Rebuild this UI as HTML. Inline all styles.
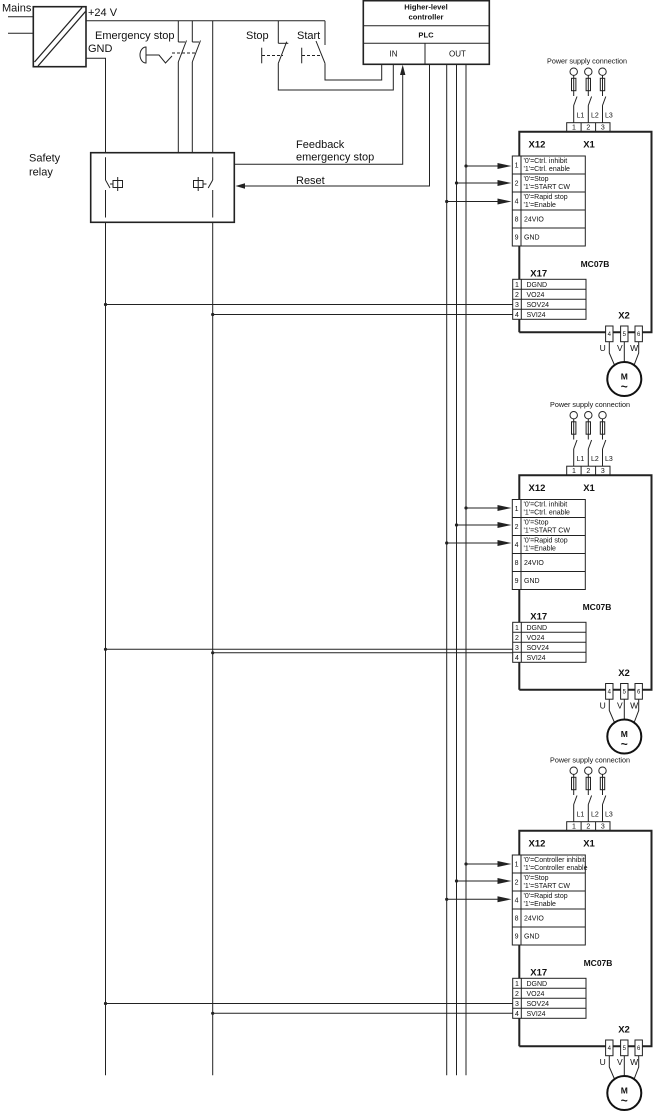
<!DOCTYPE html>
<html><head><meta charset="utf-8"><style>
html,body{margin:0;padding:0;background:#fff}
svg{display:block}
text{font-family:"Liberation Sans",Arial,sans-serif;fill:#111}
.t11{font-size:11px}
.t7{font-size:7px}
.t6{font-size:6px}
.b{font-weight:bold}
</style></head><body>
<svg width="653" height="1112" viewBox="0 0 653 1112" xmlns="http://www.w3.org/2000/svg">
<g fill="none" stroke="#222" stroke-width="1">
<!-- Mains / power supply -->
<line x1="8" y1="16.7" x2="33.3" y2="16.7"/>
<line x1="8" y1="33.3" x2="33.3" y2="33.3"/>
<rect x="33.3" y="6.7" width="52.7" height="60" stroke-width="1.6"/>
<line x1="34.5" y1="62" x2="82" y2="7.5" stroke-width="1.3"/>
<line x1="38" y1="66" x2="85.5" y2="11.5" stroke-width="1.3"/>
<!-- +24V line -->
<line x1="86" y1="20.7" x2="325" y2="20.7"/>
<!-- GND -->
<polyline points="86,58.3 105.5,58.3 105.5,152.7"/>
<line x1="105.5" y1="222.3" x2="105.5" y2="1075.3"/>
<!-- 24V vertical -->
<line x1="212.7" y1="20.7" x2="212.7" y2="152.7"/>
<line x1="212.7" y1="222.3" x2="212.7" y2="1075.3"/>
<!-- Emergency stop contacts -->
<line x1="178.3" y1="20.7" x2="178.3" y2="42"/>
<line x1="178.3" y1="42" x2="185" y2="42"/>
<line x1="178.3" y1="62" x2="186.5" y2="40.5"/>
<line x1="178.3" y1="62" x2="178.3" y2="152.7"/>
<line x1="192.3" y1="20.7" x2="192.3" y2="42"/>
<line x1="192.3" y1="42" x2="199" y2="42"/>
<line x1="192.3" y1="62" x2="200.5" y2="40.5"/>
<line x1="192.3" y1="62" x2="192.3" y2="152.7"/>
<line x1="172" y1="53" x2="197" y2="53" stroke-dasharray="3,2"/>
<path d="M146,47 A6,8 0 0 0 146,63 Z"/>
<polyline points="146,55 159,55 165.5,63 172,56"/>
<!-- Stop / Start -->
<line x1="278.3" y1="20.7" x2="278.3" y2="43.3"/>
<line x1="278.3" y1="43.3" x2="288.3" y2="43.3"/>
<line x1="278.3" y1="63.3" x2="286.7" y2="41.7"/>
<polyline points="278.3,63.3 278.3,90 393.3,90 393.3,64.3"/>
<line x1="261.7" y1="47.7" x2="261.7" y2="63.3"/>
<line x1="262" y1="55.5" x2="283" y2="55.5" stroke-dasharray="3,2"/>
<line x1="325" y1="20.7" x2="325" y2="45"/>
<line x1="325" y1="63.3" x2="316" y2="41"/>
<polyline points="325,63.3 325,80 381.7,80 381.7,64.3"/>
<line x1="301.7" y1="47.7" x2="301.7" y2="63.3"/>
<line x1="302" y1="55.5" x2="321" y2="55.5" stroke-dasharray="3,2"/>
<!-- PLC -->
<rect x="363.3" y="0.7" width="126" height="63.6" stroke-width="1.6"/>
<line x1="363.3" y1="25.7" x2="489.3" y2="25.7"/>
<line x1="363.3" y1="43.3" x2="489.3" y2="43.3"/>
<line x1="425" y1="43.3" x2="425" y2="64.3"/>
<!-- PLC outputs -->
<polyline points="429.5,64.3 429.5,186 243,186"/>
<line x1="446.7" y1="64.3" x2="446.7" y2="1075.3"/>
<line x1="456.5" y1="64.3" x2="456.5" y2="1075.3"/>
<line x1="466" y1="64.3" x2="466" y2="1075.3"/>
<!-- Feedback -->
<polyline points="234.3,164.3 402.7,164.3 402.7,74"/>
<!-- Safety relay -->
<rect x="90.7" y="152.7" width="143.6" height="69.6" stroke-width="1.6"/>
<line x1="105.5" y1="157.3" x2="105.5" y2="180"/>
<line x1="105.5" y1="180" x2="110" y2="188"/>
<line x1="105.5" y1="190" x2="105.5" y2="217.5"/>
<line x1="110" y1="184" x2="113" y2="184"/>
<rect x="113" y="180.5" width="9.5" height="7"/>
<line x1="117.7" y1="177" x2="117.7" y2="191"/>
<line x1="212.7" y1="157.3" x2="212.7" y2="180"/>
<line x1="212.7" y1="180" x2="208.2" y2="188"/>
<line x1="212.7" y1="190" x2="212.7" y2="217.5"/>
<line x1="203" y1="184" x2="206.5" y2="184"/>
<rect x="193.5" y="180.5" width="9.5" height="7"/>
<line x1="198.2" y1="177" x2="198.2" y2="191"/>
</g>
<!-- arrowheads top -->
<polygon points="402.7,64.8 400,75 405.4,75" fill="#222"/>
<polygon points="235.5,186 245,183.2 245,188.8" fill="#222"/>

<!-- top texts -->
<text x="2" y="11.5" class="t11">Mains</text>
<text x="88" y="16" class="t11">+24 V</text>
<text x="95" y="39" class="t11">Emergency stop</text>
<text x="88" y="52" class="t11">GND</text>
<text x="246" y="39" class="t11">Stop</text>
<text x="297" y="39" class="t11">Start</text>
<text x="426" y="9.5" font-size="7.6" class="b" text-anchor="middle">Higher-level</text>
<text x="426" y="19.5" font-size="7.6" class="b" text-anchor="middle">controller</text>
<text x="426" y="37.5" font-size="7.6" class="b" text-anchor="middle">PLC</text>
<text x="393.5" y="56.5" font-size="8" text-anchor="middle">IN</text>
<text x="457.5" y="56.5" font-size="8" text-anchor="middle">OUT</text>
<text x="29" y="161.5" class="t11">Safety</text>
<text x="29" y="175.5" class="t11">relay</text>
<text x="296" y="148" class="t11">Feedback</text>
<text x="296" y="160.5" class="t11">emergency stop</text>
<text x="296" y="184" class="t11">Reset</text>

<!-- ================= BLOCK 1 ================= -->
<g fill="none" stroke="#222" stroke-width="2">
<polyline points="519.3,332.3 519.3,131.7 651.5,131.7 651.5,332.3 519.3,332.3"/>
</g>
<g>
<text x="587" y="63.5" font-size="7.2" text-anchor="middle">Power supply connection</text>
<g fill="none" stroke="#222" stroke-width="1">
<circle cx="573.7" cy="71.7" r="3.7"/><circle cx="588.3" cy="71.7" r="3.7"/><circle cx="602.5" cy="71.7" r="3.7"/>
<line x1="573.7" y1="75.4" x2="573.7" y2="78.3"/><line x1="588.3" y1="75.4" x2="588.3" y2="78.3"/><line x1="602.5" y1="75.4" x2="602.5" y2="78.3"/>
<rect x="571.5" y="78.3" width="4.4" height="12.4"/><rect x="586.1" y="78.3" width="4.4" height="12.4"/><rect x="600.3" y="78.3" width="4.4" height="12.4"/>
<line x1="573.7" y1="78.3" x2="573.7" y2="96"/><line x1="588.3" y1="78.3" x2="588.3" y2="96"/><line x1="602.5" y1="78.3" x2="602.5" y2="96"/>
<line x1="573.7" y1="105.5" x2="577" y2="96.5"/><line x1="588.3" y1="105.5" x2="591.6" y2="96.5"/><line x1="602.5" y1="105.5" x2="605.8" y2="96.5"/>
<line x1="573.7" y1="105.5" x2="573.7" y2="122.7"/><line x1="588.3" y1="105.5" x2="588.3" y2="122.7"/><line x1="602.5" y1="105.5" x2="602.5" y2="122.7"/>
<rect x="566.7" y="122.7" width="43.3" height="9"/>
<line x1="581.1" y1="122.7" x2="581.1" y2="131.7"/><line x1="595.6" y1="122.7" x2="595.6" y2="131.7"/>
</g>
<text x="576.5" y="117.5" class="t7">L1</text><text x="591" y="117.5" class="t7">L2</text><text x="605" y="117.5" class="t7">L3</text>
<text x="573.9" y="129.5" class="t7" text-anchor="middle">1</text><text x="588.3" y="129.5" class="t7" text-anchor="middle">2</text><text x="602.8" y="129.5" class="t7" text-anchor="middle">3</text>
<text x="537" y="147.5" font-size="9.5" class="b" text-anchor="middle">X12</text>
<text x="589" y="147.5" font-size="9.5" class="b" text-anchor="middle">X1</text>
<rect x="512.3" y="156" width="73" height="90" fill="#fff" stroke="#222"/>
<g stroke="#222" stroke-width="1">
<line x1="512.3" y1="174" x2="585.3" y2="174"/><line x1="512.3" y1="192" x2="585.3" y2="192"/>
<line x1="512.3" y1="210" x2="585.3" y2="210"/><line x1="512.3" y1="228" x2="585.3" y2="228"/>
<line x1="521" y1="156" x2="521" y2="246"/>
<line x1="466" y1="166" x2="500" y2="166"/><line x1="456.5" y1="183" x2="500" y2="183"/><line x1="446.7" y1="201.5" x2="500" y2="201.5"/>
</g>
<g fill="#222">
<circle cx="466" cy="166" r="1.6"/><circle cx="456.5" cy="183" r="1.6"/><circle cx="446.7" cy="201.5" r="1.6"/>
<polygon points="497.5,163 511.5,166 497.5,169"/><polygon points="497.5,180 511.5,183 497.5,186"/><polygon points="497.5,198.5 511.5,201.5 497.5,204.5"/>
</g>
<text x="516.6" y="167.5" class="t7" text-anchor="middle">1</text>
<text x="523.5" y="162.8" class="t7">'0'=Ctrl. inhibit</text><text x="523.5" y="171.2" class="t7">'1'=Ctrl. enable</text>
<text x="516.6" y="185.5" class="t7" text-anchor="middle">2</text>
<text x="523.5" y="180.8" class="t7">'0'=Stop</text><text x="523.5" y="189.2" class="t7">'1'=START CW</text>
<text x="516.6" y="203.5" class="t7" text-anchor="middle">4</text>
<text x="523.5" y="198.8" class="t7">'0'=Rapid stop</text><text x="523.5" y="207.2" class="t7">'1'=Enable</text>
<text x="516.6" y="221.5" class="t7" text-anchor="middle">8</text><text x="524" y="221.5" class="t7">24VIO</text>
<text x="516.6" y="239.5" class="t7" text-anchor="middle">9</text><text x="524" y="239.5" class="t7">GND</text>
</g>
<g>
<text x="595" y="267" font-size="8.5" class="b" text-anchor="middle">MC07B</text>
<text x="538.7" y="276.5" font-size="9.5" class="b" text-anchor="middle">X17</text>
<rect x="512.7" y="279.3" width="73.3" height="40" fill="#fff" stroke="#222"/>
<g stroke="#222" stroke-width="1">
<line x1="512.7" y1="289.3" x2="586" y2="289.3"/><line x1="512.7" y1="299.3" x2="586" y2="299.3"/><line x1="512.7" y1="309.3" x2="586" y2="309.3"/>
<line x1="521.3" y1="279.3" x2="521.3" y2="319.3"/>
</g>
<text x="517" y="286.8" class="t7" text-anchor="middle">1</text><text x="526.5" y="286.8" class="t7">DGND</text>
<text x="517" y="296.8" class="t7" text-anchor="middle">2</text><text x="526.5" y="296.8" class="t7">VO24</text>
<text x="517" y="306.8" class="t7" text-anchor="middle">3</text><text x="526.5" y="306.8" class="t7">SOV24</text>
<text x="517" y="316.8" class="t7" text-anchor="middle">4</text><text x="526.5" y="316.8" class="t7">SVI24</text>
</g>
<g stroke="#222" stroke-width="1"><line x1="105.5" y1="304.5" x2="512.7" y2="304.5"/><line x1="212.7" y1="314.5" x2="512.7" y2="314.5"/></g>
<g fill="#222"><circle cx="105.5" cy="304.5" r="1.6"/><circle cx="212.7" cy="314.5" r="1.6"/></g>
<g>
<text x="624" y="318.5" font-size="9.5" class="b" text-anchor="middle">X2</text>
<g fill="#fff" stroke="#222" stroke-width="1">
<rect x="605.6" y="326" width="7.4" height="15.7"/><rect x="620.6" y="326" width="7.4" height="15.7"/><rect x="635" y="326" width="7.4" height="15.7"/>
</g>
<text x="609.3" y="336" class="t6" text-anchor="middle">4</text><text x="624.3" y="336" class="t6" text-anchor="middle">5</text><text x="638.7" y="336" class="t6" text-anchor="middle">6</text>
<text x="602.7" y="351" font-size="8.5" text-anchor="middle">U</text>
<text x="619.8" y="351" font-size="8.5" text-anchor="middle">V</text>
<text x="634.2" y="351" font-size="8.5" text-anchor="middle">W</text>
<g fill="none" stroke="#222" stroke-width="1">
<polyline points="609.3,341.7 609.3,353 614.5,365.1"/>
<line x1="624.3" y1="341.7" x2="624.3" y2="362"/>
<polyline points="638.7,341.7 638.7,353 634.1,365.1"/>
</g>
<circle cx="624.3" cy="379" r="17" fill="none" stroke="#111" stroke-width="2"/>
<text x="624.3" y="379.5" font-size="8.5" class="b" text-anchor="middle">M</text>
<text x="624.3" y="390.5" font-size="12" class="b" text-anchor="middle">~</text>
</g>

<!-- ================= BLOCK 2 ================= -->
<g fill="none" stroke="#222" stroke-width="2">
<polyline points="519.3,689.8 519.3,475.2 651.5,475.2 651.5,689.8 519.3,689.8"/>
</g>
<g transform="translate(0,343.5)">
<text x="590" y="63.5" font-size="7.2" text-anchor="middle">Power supply connection</text>
<g fill="none" stroke="#222" stroke-width="1">
<circle cx="573.7" cy="71.7" r="3.7"/><circle cx="588.3" cy="71.7" r="3.7"/><circle cx="602.5" cy="71.7" r="3.7"/>
<line x1="573.7" y1="75.4" x2="573.7" y2="78.3"/><line x1="588.3" y1="75.4" x2="588.3" y2="78.3"/><line x1="602.5" y1="75.4" x2="602.5" y2="78.3"/>
<rect x="571.5" y="78.3" width="4.4" height="12.4"/><rect x="586.1" y="78.3" width="4.4" height="12.4"/><rect x="600.3" y="78.3" width="4.4" height="12.4"/>
<line x1="573.7" y1="78.3" x2="573.7" y2="96"/><line x1="588.3" y1="78.3" x2="588.3" y2="96"/><line x1="602.5" y1="78.3" x2="602.5" y2="96"/>
<line x1="573.7" y1="105.5" x2="577" y2="96.5"/><line x1="588.3" y1="105.5" x2="591.6" y2="96.5"/><line x1="602.5" y1="105.5" x2="605.8" y2="96.5"/>
<line x1="573.7" y1="105.5" x2="573.7" y2="122.7"/><line x1="588.3" y1="105.5" x2="588.3" y2="122.7"/><line x1="602.5" y1="105.5" x2="602.5" y2="122.7"/>
<rect x="566.7" y="122.7" width="43.3" height="9"/>
<line x1="581.1" y1="122.7" x2="581.1" y2="131.7"/><line x1="595.6" y1="122.7" x2="595.6" y2="131.7"/>
</g>
<text x="576.5" y="117.5" class="t7">L1</text><text x="591" y="117.5" class="t7">L2</text><text x="605" y="117.5" class="t7">L3</text>
<text x="573.9" y="129.5" class="t7" text-anchor="middle">1</text><text x="588.3" y="129.5" class="t7" text-anchor="middle">2</text><text x="602.8" y="129.5" class="t7" text-anchor="middle">3</text>
<text x="537" y="147.5" font-size="9.5" class="b" text-anchor="middle">X12</text>
<text x="589" y="147.5" font-size="9.5" class="b" text-anchor="middle">X1</text>
<rect x="512.3" y="156" width="73" height="90" fill="#fff" stroke="#222"/>
<g stroke="#222" stroke-width="1">
<line x1="512.3" y1="174" x2="585.3" y2="174"/><line x1="512.3" y1="192" x2="585.3" y2="192"/>
<line x1="512.3" y1="210" x2="585.3" y2="210"/><line x1="512.3" y1="228" x2="585.3" y2="228"/>
<line x1="521" y1="156" x2="521" y2="246"/>
<line x1="466" y1="164.5" x2="500" y2="164.5"/><line x1="456.5" y1="181.5" x2="500" y2="181.5"/><line x1="446.7" y1="199.5" x2="500" y2="199.5"/>
</g>
<g fill="#222">
<circle cx="466" cy="164.5" r="1.6"/><circle cx="456.5" cy="181.5" r="1.6"/><circle cx="446.7" cy="199.5" r="1.6"/>
<polygon points="497.5,161.5 511.5,164.5 497.5,167.5"/><polygon points="497.5,178.5 511.5,181.5 497.5,184.5"/><polygon points="497.5,196.5 511.5,199.5 497.5,202.5"/>
</g>
<text x="516.6" y="167.5" class="t7" text-anchor="middle">1</text>
<text x="523.5" y="162.8" class="t7">'0'=Ctrl. inhibit</text><text x="523.5" y="171.2" class="t7">'1'=Ctrl. enable</text>
<text x="516.6" y="185.5" class="t7" text-anchor="middle">2</text>
<text x="523.5" y="180.8" class="t7">'0'=Stop</text><text x="523.5" y="189.2" class="t7">'1'=START CW</text>
<text x="516.6" y="203.5" class="t7" text-anchor="middle">4</text>
<text x="523.5" y="198.8" class="t7">'0'=Rapid stop</text><text x="523.5" y="207.2" class="t7">'1'=Enable</text>
<text x="516.6" y="221.5" class="t7" text-anchor="middle">8</text><text x="524" y="221.5" class="t7">24VIO</text>
<text x="516.6" y="239.5" class="t7" text-anchor="middle">9</text><text x="524" y="239.5" class="t7">GND</text>
</g>
<g transform="translate(0,343)">
<text x="597" y="267" font-size="8.5" class="b" text-anchor="middle">MC07B</text>
<text x="538.7" y="276.5" font-size="9.5" class="b" text-anchor="middle">X17</text>
<rect x="512.7" y="279.3" width="73.3" height="40" fill="#fff" stroke="#222"/>
<g stroke="#222" stroke-width="1">
<line x1="512.7" y1="289.3" x2="586" y2="289.3"/><line x1="512.7" y1="299.3" x2="586" y2="299.3"/><line x1="512.7" y1="309.3" x2="586" y2="309.3"/>
<line x1="521.3" y1="279.3" x2="521.3" y2="319.3"/>
</g>
<text x="517" y="286.8" class="t7" text-anchor="middle">1</text><text x="526.5" y="286.8" class="t7">DGND</text>
<text x="517" y="296.8" class="t7" text-anchor="middle">2</text><text x="526.5" y="296.8" class="t7">VO24</text>
<text x="517" y="306.8" class="t7" text-anchor="middle">3</text><text x="526.5" y="306.8" class="t7">SOV24</text>
<text x="517" y="316.8" class="t7" text-anchor="middle">4</text><text x="526.5" y="316.8" class="t7">SVI24</text>
</g>
<g stroke="#222" stroke-width="1"><line x1="105.5" y1="649.3" x2="512.7" y2="649.3"/><line x1="212.7" y1="652.8" x2="512.7" y2="652.8"/></g>
<g fill="#222"><circle cx="105.5" cy="649.3" r="1.6"/><circle cx="212.7" cy="652.8" r="1.6"/></g>
<g transform="translate(0,357.5)">
<text x="624" y="318.5" font-size="9.5" class="b" text-anchor="middle">X2</text>
<g fill="#fff" stroke="#222" stroke-width="1">
<rect x="605.6" y="326" width="7.4" height="15.7"/><rect x="620.6" y="326" width="7.4" height="15.7"/><rect x="635" y="326" width="7.4" height="15.7"/>
</g>
<text x="609.3" y="336" class="t6" text-anchor="middle">4</text><text x="624.3" y="336" class="t6" text-anchor="middle">5</text><text x="638.7" y="336" class="t6" text-anchor="middle">6</text>
<text x="602.7" y="351" font-size="8.5" text-anchor="middle">U</text>
<text x="619.8" y="351" font-size="8.5" text-anchor="middle">V</text>
<text x="634.2" y="351" font-size="8.5" text-anchor="middle">W</text>
<g fill="none" stroke="#222" stroke-width="1">
<polyline points="609.3,341.7 609.3,353 614.5,365.1"/>
<line x1="624.3" y1="341.7" x2="624.3" y2="362"/>
<polyline points="638.7,341.7 638.7,353 634.1,365.1"/>
</g>
<circle cx="624.3" cy="379" r="17" fill="none" stroke="#111" stroke-width="2"/>
<text x="624.3" y="379.5" font-size="8.5" class="b" text-anchor="middle">M</text>
<text x="624.3" y="390.5" font-size="12" class="b" text-anchor="middle">~</text>
</g>

<!-- ================= BLOCK 3 ================= -->
<g fill="none" stroke="#222" stroke-width="2">
<polyline points="519.3,1046.3 519.3,830.7 651.5,830.7 651.5,1046.3 519.3,1046.3"/>
</g>
<g transform="translate(0,699)">
<text x="590" y="63.5" font-size="7.2" text-anchor="middle">Power supply connection</text>
<g fill="none" stroke="#222" stroke-width="1">
<circle cx="573.7" cy="71.7" r="3.7"/><circle cx="588.3" cy="71.7" r="3.7"/><circle cx="602.5" cy="71.7" r="3.7"/>
<line x1="573.7" y1="75.4" x2="573.7" y2="78.3"/><line x1="588.3" y1="75.4" x2="588.3" y2="78.3"/><line x1="602.5" y1="75.4" x2="602.5" y2="78.3"/>
<rect x="571.5" y="78.3" width="4.4" height="12.4"/><rect x="586.1" y="78.3" width="4.4" height="12.4"/><rect x="600.3" y="78.3" width="4.4" height="12.4"/>
<line x1="573.7" y1="78.3" x2="573.7" y2="96"/><line x1="588.3" y1="78.3" x2="588.3" y2="96"/><line x1="602.5" y1="78.3" x2="602.5" y2="96"/>
<line x1="573.7" y1="105.5" x2="577" y2="96.5"/><line x1="588.3" y1="105.5" x2="591.6" y2="96.5"/><line x1="602.5" y1="105.5" x2="605.8" y2="96.5"/>
<line x1="573.7" y1="105.5" x2="573.7" y2="122.7"/><line x1="588.3" y1="105.5" x2="588.3" y2="122.7"/><line x1="602.5" y1="105.5" x2="602.5" y2="122.7"/>
<rect x="566.7" y="122.7" width="43.3" height="9"/>
<line x1="581.1" y1="122.7" x2="581.1" y2="131.7"/><line x1="595.6" y1="122.7" x2="595.6" y2="131.7"/>
</g>
<text x="576.5" y="117.5" class="t7">L1</text><text x="591" y="117.5" class="t7">L2</text><text x="605" y="117.5" class="t7">L3</text>
<text x="573.9" y="129.5" class="t7" text-anchor="middle">1</text><text x="588.3" y="129.5" class="t7" text-anchor="middle">2</text><text x="602.8" y="129.5" class="t7" text-anchor="middle">3</text>
<text x="537" y="147.5" font-size="9.5" class="b" text-anchor="middle">X12</text>
<text x="589" y="147.5" font-size="9.5" class="b" text-anchor="middle">X1</text>
<rect x="512.3" y="156" width="73" height="90" fill="#fff" stroke="#222"/>
<g stroke="#222" stroke-width="1">
<line x1="512.3" y1="174" x2="585.3" y2="174"/><line x1="512.3" y1="192" x2="585.3" y2="192"/>
<line x1="512.3" y1="210" x2="585.3" y2="210"/><line x1="512.3" y1="228" x2="585.3" y2="228"/>
<line x1="521" y1="156" x2="521" y2="246"/>
<line x1="466" y1="165" x2="500" y2="165"/><line x1="456.5" y1="182" x2="500" y2="182"/><line x1="446.7" y1="200.3" x2="500" y2="200.3"/>
</g>
<g fill="#222">
<circle cx="466" cy="165" r="1.6"/><circle cx="456.5" cy="182" r="1.6"/><circle cx="446.7" cy="200.3" r="1.6"/>
<polygon points="497.5,162 511.5,165 497.5,168"/><polygon points="497.5,179 511.5,182 497.5,185"/><polygon points="497.5,197.3 511.5,200.3 497.5,203.3"/>
</g>
<text x="516.6" y="167.5" class="t7" text-anchor="middle">1</text>
<text x="523.5" y="162.8" class="t7">'0'=Controller inhibit</text><text x="523.5" y="171.2" class="t7">'1'=Controller enable</text>
<text x="516.6" y="185.5" class="t7" text-anchor="middle">2</text>
<text x="523.5" y="180.8" class="t7">'0'=Stop</text><text x="523.5" y="189.2" class="t7">'1'=START CW</text>
<text x="516.6" y="203.5" class="t7" text-anchor="middle">4</text>
<text x="523.5" y="198.8" class="t7">'0'=Rapid stop</text><text x="523.5" y="207.2" class="t7">'1'=Enable</text>
<text x="516.6" y="221.5" class="t7" text-anchor="middle">8</text><text x="524" y="221.5" class="t7">24VIO</text>
<text x="516.6" y="239.5" class="t7" text-anchor="middle">9</text><text x="524" y="239.5" class="t7">GND</text>
</g>
<g transform="translate(0,699)">
<text x="598" y="267" font-size="8.5" class="b" text-anchor="middle">MC07B</text>
<text x="538.7" y="276.5" font-size="9.5" class="b" text-anchor="middle">X17</text>
<rect x="512.7" y="279.3" width="73.3" height="40" fill="#fff" stroke="#222"/>
<g stroke="#222" stroke-width="1">
<line x1="512.7" y1="289.3" x2="586" y2="289.3"/><line x1="512.7" y1="299.3" x2="586" y2="299.3"/><line x1="512.7" y1="309.3" x2="586" y2="309.3"/>
<line x1="521.3" y1="279.3" x2="521.3" y2="319.3"/>
</g>
<text x="517" y="286.8" class="t7" text-anchor="middle">1</text><text x="526.5" y="286.8" class="t7">DGND</text>
<text x="517" y="296.8" class="t7" text-anchor="middle">2</text><text x="526.5" y="296.8" class="t7">VO24</text>
<text x="517" y="306.8" class="t7" text-anchor="middle">3</text><text x="526.5" y="306.8" class="t7">SOV24</text>
<text x="517" y="316.8" class="t7" text-anchor="middle">4</text><text x="526.5" y="316.8" class="t7">SVI24</text>
</g>
<g stroke="#222" stroke-width="1"><line x1="105.5" y1="1003.5" x2="512.7" y2="1003.5"/><line x1="212.7" y1="1013.3" x2="512.7" y2="1013.3"/></g>
<g fill="#222"><circle cx="105.5" cy="1003.5" r="1.6"/><circle cx="212.7" cy="1013.3" r="1.6"/></g>
<g transform="translate(0,714)">
<text x="624" y="318.5" font-size="9.5" class="b" text-anchor="middle">X2</text>
<g fill="#fff" stroke="#222" stroke-width="1">
<rect x="605.6" y="326" width="7.4" height="15.7"/><rect x="620.6" y="326" width="7.4" height="15.7"/><rect x="635" y="326" width="7.4" height="15.7"/>
</g>
<text x="609.3" y="336" class="t6" text-anchor="middle">4</text><text x="624.3" y="336" class="t6" text-anchor="middle">5</text><text x="638.7" y="336" class="t6" text-anchor="middle">6</text>
<text x="602.7" y="351" font-size="8.5" text-anchor="middle">U</text>
<text x="619.8" y="351" font-size="8.5" text-anchor="middle">V</text>
<text x="634.2" y="351" font-size="8.5" text-anchor="middle">W</text>
<g fill="none" stroke="#222" stroke-width="1">
<polyline points="609.3,341.7 609.3,353 614.5,365.1"/>
<line x1="624.3" y1="341.7" x2="624.3" y2="362"/>
<polyline points="638.7,341.7 638.7,353 634.1,365.1"/>
</g>
<circle cx="624.3" cy="379" r="17" fill="none" stroke="#111" stroke-width="2"/>
<text x="624.3" y="379.5" font-size="8.5" class="b" text-anchor="middle">M</text>
<text x="624.3" y="390.5" font-size="12" class="b" text-anchor="middle">~</text>
</g>
</svg>
</body></html>
